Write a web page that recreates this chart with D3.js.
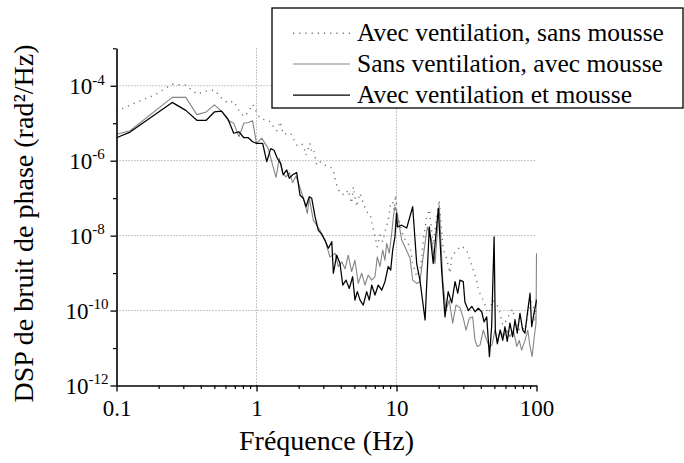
<!DOCTYPE html>
<html>
<head>
<meta charset="utf-8">
<script src="https://cdn.jsdelivr.net/npm/d3@7"></script>
<style>
  html, body { margin: 0; padding: 0; background: #fff; }
  svg { display: block; }
  svg text { font-family: "Liberation Serif", "Tinos", "Times New Roman", "Nimbus Roman", "Nimbus Roman No9 L", "FreeSerif", "DejaVu Serif", "Noto Serif", serif !important; }
</style>
</head>
<body>
<svg id="chart" width="684" height="463"></svg>
<script>
// Phase-noise power spectral density (rad²/Hz) versus frequency (Hz)

// Avec ventilation, sans mousse
const freqVentNoFoam = [0.1,0.125,0.1875,0.25,0.3125,0.375,0.4375,0.5,0.5625,0.625,
  0.6875,0.75,0.8125,0.875,0.9375,1.0,1.059,1.214,1.284,1.334,
  1.394,1.472,1.553,1.755,1.936,2.103,2.195,2.257,2.41,2.48,
  2.57,2.69,2.84,3.03,3.35,3.54,3.70,3.95,4.29,4.52,
  4.78,4.92,5.19,5.49,5.79,6.12,6.46,6.77,7.02,7.29,
  7.62,7.97,8.27,8.73,9.09,9.39,9.6,9.84,10.08,10.59,
  11.18,11.83,12.49,13.05,13.94,14.89,15.5,16.43,17.15,17.8,
  18.3,19.36,20.2,20.7,21.6,22.8,24.1,24.8,26.9,29.2,
  31.7,33.5,35.4,37.4,38.4,40.6,42.9,45.2,46.5,48.6,
  51.4,54.3,57.4,61.2,64.6,67.6,70.2,74.1,78.3,82.7,
  87.3,91.3,95.0,97.6,100];
const psdVentNoFoam = [2.1e-5,3.05e-5,5.7e-5,1.1e-4,1.04e-4,6.0e-5,7.2e-5,7.7e-5,4.7e-5,3.45e-5,
  3.9e-5,2.2e-5,1.5e-5,2.0e-5,3.2e-5,2.0e-5,1.35e-5,1.16e-5,1.05e-5,7.3e-6,
  6.3e-6,1.1e-5,5.1e-6,5.4e-6,2.6e-6,2.9e-6,2.1e-6,1.4e-6,2.9e-6,1.7e-6,
  1.9e-6,7.7e-7,9.4e-7,7.7e-7,6.9e-7,5.7e-7,2.5e-7,1.35e-7,1.2e-7,1.65e-7,
  7.3e-8,2.0e-7,5.9e-8,1.35e-7,7.3e-8,4.3e-8,3.9e-8,1.7e-8,9.3e-9,5.0e-9,
  1.04e-8,6.9e-9,1.27e-8,2.6e-8,7.3e-8,8.0e-8,4.8e-8,1.21e-7,3.8e-8,2.1e-8,
  9.3e-9,6.9e-9,5.0e-9,1.8e-9,8.0e-10,1.5e-9,6.9e-9,3.2e-8,5.0e-8,1.4e-8,
  5.6e-9,3.2e-8,8.9e-8,2.6e-8,4.1e-9,2.5e-9,1.0e-9,2.7e-9,4.1e-9,5.3e-9,
  4.1e-9,2.2e-9,1.2e-9,6.5e-10,3.5e-10,2.35e-10,1.4e-10,8.4e-11,1.04e-10,1.9e-10,
  1.6e-10,1.0e-10,4.1e-11,5.6e-11,8.4e-11,1.1e-10,5.6e-11,3.0e-11,3.7e-11,3.0e-11,
  1.0e-10,1.7e-10,1.27e-10,5.0e-11,2.35e-10];

// Sans ventilation, avec mousse
const freqFoamOnly = [0.1,0.125,0.25,0.3125,0.375,0.4375,0.5,0.5625,0.625,0.6875,
  0.75,0.8125,0.875,0.9375,1.0,1.09,1.214,1.284,1.378,1.455,
  1.538,1.625,1.715,1.813,1.915,2.021,2.184,2.307,2.383,2.546,
  2.69,2.84,3.08,3.35,3.64,3.84,4.06,4.29,4.52,4.78,
  5.05,5.33,5.64,5.95,6.28,6.65,7.02,7.29,7.62,7.97,
  8.27,8.51,8.88,9.24,9.5,9.75,10.13,10.89,11.5,12.49,
  13.05,13.94,14.7,15.5,16.6,17.8,18.85,20.2,21.4,22.56,
  23.8,25.2,26.6,28.4,30.0,31.4,33.1,35.0,36.4,37.8,
  39.5,41.7,44.1,46.1,48.1,50.5,52.5,55.0,57.9,61.2,
  64.6,68.3,72.3,75.3,78.3,82.7,86.7,89.9,93.0,96.4,
  99.2,100];
const psdFoamOnly = [5.1e-6,6.3e-6,4.9e-5,4.9e-5,1.7e-5,2.0e-5,3.1e-5,2.1e-5,1.2e-5,1.0e-5,
  4.4e-6,1.0e-5,1.05e-5,1.16e-5,2.9e-6,4.0e-6,2.1e-6,9.4e-7,3.6e-7,1.16e-6,
  4.6e-7,3.7e-7,4.8e-7,2.6e-7,3.9e-7,2.2e-7,8.9e-8,3.9e-8,9.9e-8,2.6e-8,
  1.9e-8,1.4e-8,7.6e-9,2.7e-9,3.4e-9,1.5e-9,2.0e-9,1.3e-9,3.0e-9,1.1e-9,
  2.2e-9,5.3e-10,9.9e-10,4.8e-10,8.9e-10,6.5e-10,8.0e-10,2.7e-9,1.5e-9,4.1e-9,
  2.2e-9,6.2e-9,3.4e-9,1.15e-8,3.2e-8,5.9e-8,3.9e-8,7.6e-9,5.0e-9,2.5e-9,
  6.5e-10,5.3e-10,5.9e-10,2.7e-9,1.7e-8,7.6e-9,1.8e-9,6.5e-8,6.5e-10,1.0e-10,
  1.9e-10,4.6e-11,1.4e-10,1.2e-10,6.2e-11,3.0e-11,6.2e-11,6.8e-11,1.6e-11,1.1e-11,
  1.2e-11,3.0e-11,1.6e-11,1.1e-11,1.2e-11,3.0e-11,1.5e-11,3.0e-11,2.0e-11,3.0e-11,
  2.0e-11,3.0e-11,1.1e-11,1.6e-11,8.8e-12,1.6e-11,3.0e-11,1.1e-11,5.9e-12,2.0e-11,
  4.6e-11,3.4e-9];

// Avec ventilation et mousse
const freqVentFoam = [0.1,0.125,0.25,0.3125,0.375,0.4375,0.5,0.5625,0.625,0.6875,
  0.75,0.8125,0.875,0.9375,1.0,1.107,1.183,1.263,1.334,1.408,
  1.489,1.553,1.643,1.715,1.813,1.936,2.045,2.16,2.257,2.383,
  2.48,2.62,2.76,2.92,3.08,3.26,3.45,3.54,3.74,3.95,
  4.13,4.36,4.6,4.86,5.05,5.25,5.49,5.79,6.12,6.39,
  6.65,7.02,7.41,7.84,8.27,8.73,9.09,9.39,9.75,10.0,
  10.16,10.89,11.83,13.05,13.94,14.7,16.0,17.15,18.3,19.9,
  21.0,22.2,23.4,24.8,26.2,27.4,28.4,30.0,30.8,32.6,
  34.5,36.4,38.4,40.6,42.2,44.1,46.1,47.8,49.8,50.8,
  52.5,55.0,57.4,59.5,61.8,64.6,67.6,70.2,72.9,76.2,
  79.7,82.7,86.1,89.9,92.4,96.0,100];
const psdVentFoam = [4.1e-6,5.8e-6,3.6e-5,2.2e-5,1.2e-5,1.2e-5,2.0e-5,2.1e-5,1.3e-5,5.4e-6,
  5.9e-6,4.1e-6,4.1e-6,3.2e-6,2.9e-6,2.9e-6,9.4e-7,2.1e-6,1.9e-6,1.16e-6,
  8.5e-7,4.2e-7,5.7e-7,3.4e-7,4.2e-7,4.8e-7,1.2e-7,9.9e-8,5.9e-8,1.09e-7,
  9.9e-8,3.2e-8,1.4e-8,1.1e-8,7.6e-9,4.6e-9,6.9e-9,9.9e-10,3.0e-9,1.8e-9,
  4.8e-10,6.5e-10,3.9e-10,8.0e-10,1.9e-10,3.2e-10,1.9e-10,1.4e-10,3.2e-10,1.9e-10,
  4.8e-10,2.6e-10,4.8e-10,3.5e-10,5.9e-10,1.5e-9,1.2e-9,4.1e-9,9.3e-9,4.0e-8,
  1.7e-8,1.9e-8,1.6e-8,5.9e-8,1.8e-9,6.5e-10,5.6e-11,1.7e-8,1.8e-9,5.3e-8,
  1.2e-9,6.8e-11,3.2e-10,1.6e-10,5.9e-10,2.9e-10,6.5e-10,5.9e-10,1.7e-10,1.0e-10,
  1.3e-10,9.3e-11,1.15e-10,9.3e-11,5.0e-11,6.8e-11,5.9e-12,3.7e-11,9.3e-9,3.0e-11,
  1.3e-11,3.0e-11,1.6e-11,3.7e-11,1.5e-11,4.6e-11,2.0e-11,5.6e-11,2.5e-11,8.4e-11,
  3.0e-11,2.5e-11,8.4e-11,2.9e-10,3.7e-11,8.4e-11,1.9e-10];

const seriesLabels = ["Avec ventilation, sans mousse", "Sans ventilation, avec mousse", "Avec ventilation et mousse"];
const xTickValues = [0.1, 1, 10, 100];
const xTickLabels = ["0.1", "1", "10", "100"];
const yTickExponents = [-4, -6, -8, -10, -12];
const yMinorExponents = [-3, -5, -7, -9, -11];
const xGridValues = [1, 10];
const yGridValues = [1e-4, 1e-6, 1e-8, 1e-10];
const xTitle = "Fréquence (Hz)";
const yTitle = "DSP de bruit de phase (rad²/Hz)";

const svg = d3.select("#chart");
const x = d3.scaleLog().domain([0.1, 100]).range([116.5, 536.5]);
const y = d3.scaleLog().domain([1e-12, 1e-3]).range([385.5, 48.3]);

// Dotted grid
const grid = svg.append("g")
  .attr("stroke", "#8c8c8c").attr("stroke-width", 1).attr("stroke-dasharray", "1,2");
xGridValues.forEach(v => grid.append("line")
  .attr("x1", x(v)).attr("x2", x(v)).attr("y1", y.range()[0]).attr("y2", y.range()[1]));
yGridValues.forEach(v => grid.append("line")
  .attr("x1", x.range()[0]).attr("x2", x.range()[1]).attr("y1", y(v)).attr("y2", y(v)));

// Curves
svg.append("defs").append("clipPath").attr("id", "plot-clip")
  .append("rect")
  .attr("x", x.range()[0]).attr("y", y.range()[1] - 1)
  .attr("width", x.range()[1] - x.range()[0] + 2)
  .attr("height", y.range()[0] - y.range()[1] + 1);

const line = d3.line().x(d => x(d[0])).y(d => y(d[1]));
const zip = (f, p) => f.map((v, i) => [v, p[i]]);

const styles = [
  { stroke: "#707070", width: 1.4, dash: "1.2,5" },
  { stroke: "#858585", width: 1.1, dash: null },
  { stroke: "#000000", width: 1.25, dash: null }
];
const datasets = [
  zip(freqVentNoFoam, psdVentNoFoam),
  zip(freqFoamOnly, psdFoamOnly),
  zip(freqVentFoam, psdVentFoam)
];

const curves = svg.append("g").attr("clip-path", "url(#plot-clip)");
datasets.forEach((data, i) => {
  curves.append("path")
    .datum(data)
    .attr("d", line)
    .attr("fill", "none")
    .attr("stroke", styles[i].stroke)
    .attr("stroke-width", styles[i].width)
    .attr("stroke-dasharray", styles[i].dash)
    .attr("stroke-linejoin", "round");
});

// X axis
const xMinor = [];
[0.1, 1, 10].forEach(dec => { for (let k = 2; k <= 9; k++) xMinor.push(dec * k); });

const xAxisG = svg.append("g").attr("transform", `translate(0,${y.range()[0]})`);
xAxisG.call(d3.axisBottom(x).tickValues(xTickValues).tickSize(6).tickSizeOuter(0)
  .tickPadding(8).tickFormat((d, i) => xTickLabels[i]));
xAxisG.select(".domain").attr("stroke-width", 1.6);
xAxisG.selectAll(".tick line").attr("stroke-width", 1.3);
xAxisG.selectAll(".tick text").attr("font-size", 23).attr("fill", "#000");

const xMinorG = svg.append("g").attr("transform", `translate(0,${y.range()[0]})`);
xMinorG.call(d3.axisBottom(x).tickValues(xMinor).tickSize(3.5).tickFormat(""));
xMinorG.select(".domain").remove();
xMinorG.selectAll(".tick line").attr("stroke-width", 1.2);

// Y axis
const yAxisG = svg.append("g").attr("transform", `translate(${x.range()[0]},0)`);
yAxisG.call(d3.axisLeft(y).tickValues(yTickExponents.map(e => Math.pow(10, e)))
  .tickSize(6).tickSizeOuter(0).tickFormat(""));
yAxisG.select(".domain").attr("stroke-width", 1.6);
yAxisG.selectAll(".tick line").attr("stroke-width", 1.3);
yAxisG.selectAll(".tick").each(function(d, i) {
  const t = d3.select(this).append("text")
    .attr("x", -29.5).attr("y", 0).attr("dy", "0.33em")
    .attr("text-anchor", "middle")
    .attr("font-size", 23).attr("fill", "#000");
  t.append("tspan").text("10");
  t.append("tspan").attr("font-size", 15).attr("dy", "-0.62em").text(String(yTickExponents[i]));
});

const yMinorG = svg.append("g").attr("transform", `translate(${x.range()[0]},0)`);
yMinorG.call(d3.axisLeft(y).tickValues(yMinorExponents.map(e => Math.pow(10, e)))
  .tickSize(3.5).tickFormat(""));
yMinorG.select(".domain").remove();
yMinorG.selectAll(".tick line").attr("stroke-width", 1.2);

// Axis titles
svg.append("text")
  .attr("x", (x.range()[0] + x.range()[1]) / 2).attr("y", 450)
  .attr("text-anchor", "middle").attr("font-size", 28).attr("fill", "#000")
  .text(xTitle);
svg.append("text")
  .attr("transform", "translate(33,223.5) rotate(-90)")
  .attr("text-anchor", "middle").attr("font-size", 28).attr("fill", "#000")
  .text(yTitle);

// Legend
const legend = svg.append("g");
legend.append("rect")
  .attr("x", 272).attr("y", 8).attr("width", 411).attr("height", 100)
  .attr("fill", "#fff").attr("stroke", "#000").attr("stroke-width", 1.3);
const rowY = [33.3, 64, 95];
seriesLabels.forEach((label, i) => {
  legend.append("line")
    .attr("x1", 293).attr("x2", 350).attr("y1", rowY[i]).attr("y2", rowY[i])
    .attr("stroke", styles[i].stroke).attr("stroke-width", styles[i].width)
    .attr("stroke-dasharray", styles[i].dash);
  legend.append("text")
    .attr("x", 357).attr("y", rowY[i] + 7.5)
    .attr("font-size", 25.5).attr("fill", "#000")
    .text(label);
});
</script>
</body>
</html>
